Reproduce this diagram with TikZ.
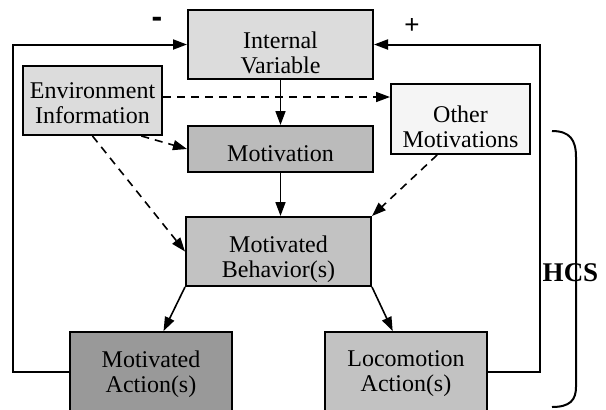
\documentclass[tikz,border=0pt]{standalone}
\usepackage{fontspec}
\usepackage{tikz}
\usetikzlibrary{arrows.meta,positioning,calc}
\setmainfont{Liberation Serif}
\newfontfamily\signfont{Liberation Sans}
\definecolor{fillpale}{HTML}{F5F5F5}
\definecolor{filllight}{HTML}{DCDCDC}
\definecolor{fillmid}{HTML}{C2C2C2}
\definecolor{filldark}{HTML}{BBBBBB}
\definecolor{fillaction}{HTML}{999999}
\tikzset{
  box/.style={draw,line width=1pt,minimum width=92.5pt,minimum height=34.5pt,inner sep=0pt},
  boxtext/.style={align=center,font=\fontsize{12}{12.5}\selectfont,inner sep=0pt},
  arrow/.style={-{Triangle[length=7pt,width=5pt]},line width=0.8pt},
  dasharrow/.style={-{Triangle[length=7pt,width=5pt]},line width=0.8pt,dash pattern=on 4pt off 3pt},
  feedback/.style={-{Triangle[length=7pt,width=5pt]},line width=1pt}
}

\begin{document}
\begin{tikzpicture}[x=0.5pt,y=-0.5pt]
  \useasboundingbox (0,0) rectangle (606,409);
  \clip (0,0) rectangle (606,409);

  \node[box,fill=filllight,label={[boxtext,yshift=-4.25pt]center:Internal\\Variable}] (iv) at (280.5,44.5) {};
  \node[box,fill=filllight,minimum width=69.5pt,label={[boxtext,yshift=-1.5pt]center:Environment\\Information}] (env) at (92.5,100.5) {};
  \node[box,fill=filldark,minimum height=23pt,label={[boxtext,yshift=-2.5pt]center:Motivation}] (mot) at (280.5,149) {};
  \node[box,fill=fillpale,minimum width=69.5pt,minimum height=35pt,label={[boxtext,yshift=-4pt]center:Other\\Motivations}] (other) at (460.5,119) {};
  \node[box,fill=fillmid,label={[boxtext,yshift=-3.75pt]center:Motivated\\Behavior(s)}] (beh) at (278.5,251.5) {};
  \node[box,fill=fillaction,minimum width=81pt,minimum height=40pt,label={[boxtext,yshift=-1pt]center:Motivated\\Action(s)}] (mact) at (151,372) {};
  \node[box,fill=fillmid,minimum width=81pt,minimum height=40pt,label={[boxtext,yshift=-1pt]center:Locomotion\\Action(s)}] (loco) at (406,372) {};

  \draw[arrow] (iv.south) -- (mot.north);
  \draw[arrow] (mot.south) -- (mot.south |- beh.north);
  \draw[arrow] (beh.south west) -- (mact.73);
  \draw[arrow] (beh.south east) -- (loco.108);

  % dashed inputs
  \coordinate (envout) at ([yshift=1.75pt]env.east);
  \draw[dasharrow] (envout) -- (envout -| other.west);
  \draw[dasharrow] (env.-36) -- (mot.west);
  \draw[dasharrow] (env.south) -- (beh.west);
  \draw[dasharrow] (other.-123) -- (beh.north east);

  % feedback loops
  \draw[feedback] (mact.west) -- ++(-56,0) |- (iv.west);
  \draw[feedback] (loco.east) -- ++(52,0) |- (iv.east);
  \node[font=\signfont\bfseries\fontsize{16}{16}\selectfont] (minus) at (157,22) {-};
  \node[font=\signfont\fontsize{13}{13}\selectfont] (plus) at (412,26) {+};

  % HCS brace
  \draw[line width=1pt] (552,131) .. controls (570,131) and (576,140) .. (576,157)
    -- (576,387) .. controls (576,400) and (570,407) .. (552,407);
  \node[font=\bfseries\fontsize{13.5}{13.5}\selectfont] (hcs) at (570.5,273) {HCS};
\end{tikzpicture}
\end{document}
